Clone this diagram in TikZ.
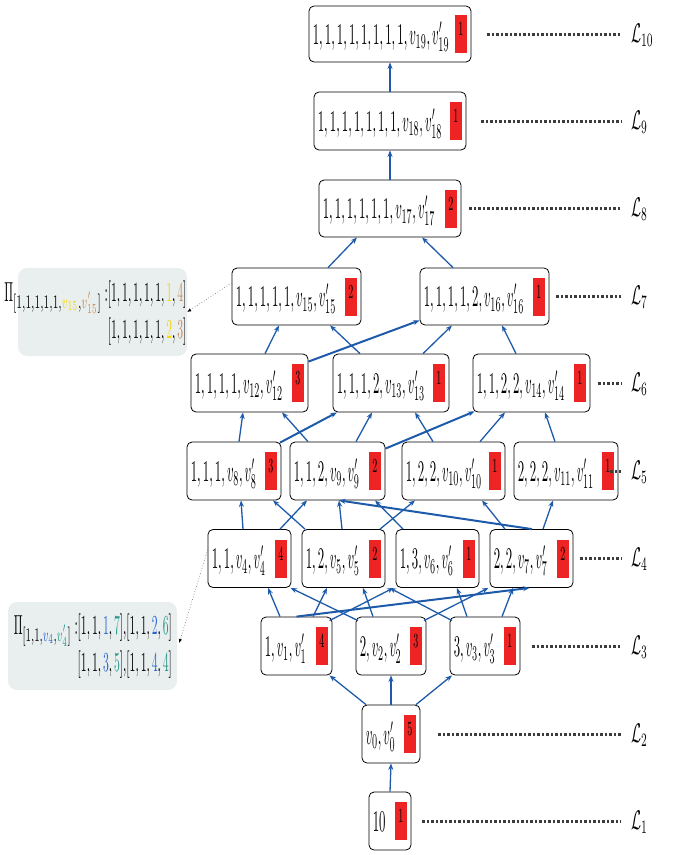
\documentclass[tikz,border=0pt]{standalone}
\usepackage{graphicx}
\usetikzlibrary{arrows.meta,calc}
\definecolor{edgeblue}{RGB}{30,90,170}
\definecolor{badgered}{RGB}{238,36,36}
\definecolor{pifill}{RGB}{233,239,238}
\definecolor{piyel}{RGB}{245,215,0}
\definecolor{pitan}{RGB}{200,140,90}
\definecolor{piblue}{RGB}{40,100,210}
\definecolor{piteal}{RGB}{35,150,140}
\definecolor{lvgray}{RGB}{60,60,60}
\tikzset{
  latbox/.style={draw=black,line width=0.8pt,rounded corners=5pt,fill=white,inner sep=0pt},
  lattext/.style={anchor=base west,inner sep=0pt},
  badgebox/.style={fill=badgered,minimum width=12pt,minimum height=38pt,inner sep=0pt},
  badgenum/.style={anchor=base,inner sep=0pt},
  edgearrow/.style={draw=edgeblue,line width=1.3pt,-{Stealth[length=6.5pt,width=5pt]}},
  thickedge/.style={edgearrow,line width=2pt},
  lvline/.style={draw=lvgray,line width=2.2pt,dash pattern=on 2.5pt off 2pt},
  lvlabel/.style={anchor=base west,inner sep=0pt},
  pibox/.style={fill=pifill,rounded corners=9pt,inner sep=0pt,minimum width=169pt,minimum height=88pt},
  pitext/.style={anchor=east,inner sep=0pt},
  dotarrow/.style={draw=gray,line width=0.7pt,dotted,-{Latex[length=4pt,width=3.5pt,color=black]}}
}
\newcommand\latnode[7]{%
  \node[latbox,minimum width=#4pt,minimum height=#5pt] (#1) at (#2,#3) {};
  \node[lattext] (#1t) at ([xshift=4pt,yshift=-10pt]#1.west) {\scalebox{1.28}[3]{$#6$}};
  \node[badgebox] (#1b) at ([xshift=-10.5pt]#1.east) {};
  \node[badgenum] (#1n) at ([yshift=-1.5pt]#1b.center) {\scalebox{1}[2]{#7}};
}
\newcommand\lvl[5]{% name, y, source node, xshift, label text
  \coordinate (e#1) at (621,#2);
  \coordinate (s#1) at ([xshift=#4pt]#3.east);
  \draw[lvline] (s#1 |- e#1) -- (e#1);
  \node[lvlabel] (L#1) at (631,#2+8) {\scalebox{1.45}[2.7]{$\mathcal{L}_{#5}$}};
}
\begin{document}
\begin{tikzpicture}[x=1pt,y=-1pt]
\useasboundingbox (0,0) rectangle (673,855);

% Pi annotation boxes
\node[pibox] (pi1) at (102.5,312) {};
\node[pitext] (pi1t) at ([xshift=-0.5pt,yshift=-1pt]pi1.east) {\scalebox{1.17}[2.75]{\renewcommand{\arraystretch}{1.06}\begin{tabular}{@{}r@{}}$\Pi_{\scalebox{1.22}[1]{$\scriptstyle[1,1,1,1,1,{\color{piyel}v_{15}},{\color{pitan}v'_{15}}]$}}\;{:}[1,1,1,1,1,{\color{piyel}1},{\color{pitan}4}]$\\$[1,1,1,1,1,{\color{piyel}2},{\color{pitan}3}]$\end{tabular}}};
\node[pibox] (pi2) at (92.5,646) {};
\node[pitext] (pi2t) at ([xshift=-5pt]pi2.east) {\scalebox{1.17}[2.75]{\renewcommand{\arraystretch}{1.06}\begin{tabular}{@{}r@{}}$\Pi_{\scalebox{1.16}[1]{$\scriptstyle[1,1,{\color{piblue}v_4},{\color{piteal}v'_4}]$}}\;{:}[1,1,{\color{piblue}1},{\color{piteal}7}]{,}[1,1,{\color{piblue}2},{\color{piteal}6}]$\\$[1,1,{\color{piblue}3},{\color{piteal}5}]{,}[1,1,{\color{piblue}4},{\color{piteal}4}]$\end{tabular}}};

% lattice nodes
\latnode{n19}{390}{34}{162}{56}{1,1,1,1,1,1,1,1,v_{19},v'_{19}}{1}
\latnode{n18}{390}{121}{152}{58}{1,1,1,1,1,1,1,v_{18},v'_{18}}{1}
\latnode{n17}{390}{208.5}{142}{57}{1,1,1,1,1,1,v_{17},v'_{17}}{2}
\latnode{n15}{296.5}{296.5}{129}{57}{1,1,1,1,1,v_{15},v'_{15}}{2}
\latnode{n16}{484.5}{296.5}{129}{57}{1,1,1,1,2,v_{16},v'_{16}}{1}
\latnode{n12}{249.5}{383}{117}{58}{1,1,1,1,v_{12},v'_{12}}{3}
\latnode{n13}{391}{383}{116}{58}{1,1,1,2,v_{13},v'_{13}}{1}
\latnode{n14}{531.5}{383}{117}{58}{1,1,2,2,v_{14},v'_{14}}{1}
\latnode{n8}{234}{471}{94}{58}{1,1,1,v_8,v'_8}{3}
\latnode{n9}{337.5}{471}{95}{58}{1,1,2,v_9,v'_9}{2}
\latnode{n10}{453.5}{471}{103}{58}{1,2,2,v_{10},v'_{10}}{1}
\latnode{n11}{566}{471}{104}{58}{2,2,2,v_{11},v'_{11}}{1}
\latnode{n4}{249.5}{558.5}{83}{58}{1,1,v_4,v'_4}{4}
\latnode{n5}{343.5}{558.5}{83}{58}{1,2,v_5,v'_5}{2}
\latnode{n6}{437.5}{558.5}{83}{58}{1,3,v_6,v'_6}{1}
\latnode{n7}{531.5}{558.5}{83}{58}{2,2,v_7,v'_7}{2}
\latnode{n1}{296.5}{646}{71}{58}{1,v_1,v'_1}{4}
\latnode{n2}{391}{646}{70}{58}{2,v_2,v'_2}{3}
\latnode{n3}{485}{646}{70}{58}{3,v_3,v'_3}{1}
\latnode{n0}{391}{734}{58}{58}{v_0,v'_0}{5}
\latnode{root}{390}{821}{42}{58}{10}{1}

% edges L1 -> L2 -> L3
\draw[edgearrow] (root.north) -- (n0.south);
\draw[edgearrow] ([xshift=-25pt]n0.north) -- ([xshift=33pt]n1.south);
\draw[edgearrow] (n0.north) -- (n2.south);
\draw[edgearrow] ([xshift=25pt]n0.north) -- ([xshift=-33pt]n3.south);
% L3 -> L4
\draw[edgearrow] ([xshift=-16.5pt]n1.north) -- ([xshift=18.5pt]n4.south);
\draw[edgearrow] ([xshift=16.5pt]n1.north) -- ([xshift=-16.5pt]n5.south);
\draw[thickedge] (n1.north) -- ([xshift=-2pt]n7.south);
\draw[edgearrow] ([xshift=33pt,yshift=-4pt]n1.north) -- ([xshift=-44pt]n6.south);
\draw[edgearrow] ([xshift=-33pt,yshift=-4pt]n2.north) -- ([xshift=41pt]n4.south);
\draw[edgearrow] ([xshift=-18pt]n2.north) -- ([xshift=19.5pt]n5.south);
\draw[edgearrow] ([xshift=33pt,yshift=-4pt]n2.north) -- ([xshift=-43pt]n7.south);
\draw[edgearrow] ([xshift=-33pt,yshift=-4pt]n3.north) -- ([xshift=46pt]n5.south);
\draw[edgearrow] ([xshift=-18pt]n3.north) -- ([xshift=19.5pt]n6.south);
\draw[edgearrow] ([xshift=17pt]n3.north) -- ([xshift=-18.5pt]n7.south);
% L4 -> L5
\draw[edgearrow] ([xshift=-6.5pt]n4.north) -- ([xshift=7pt]n8.south);
\draw[edgearrow] ([xshift=30.5pt]n4.north) -- ([xshift=-30.5pt]n9.south);
\draw[edgearrow] ([xshift=-38.5pt]n5.north) -- ([xshift=39pt]n8.south);
\draw[edgearrow] ([xshift=-1.5pt]n5.north) -- ([xshift=1.5pt]n9.south);
\draw[edgearrow] ([xshift=36.5pt]n5.north) -- ([xshift=-38.5pt]n10.south);
\draw[edgearrow] ([xshift=-34.5pt]n6.north) -- ([xshift=37.5pt]n9.south);
\draw[thickedge] ([xshift=0.5pt]n7.north) -- ([xshift=1.5pt]n9.south);
\draw[edgearrow] ([xshift=-26.5pt]n7.north) -- ([xshift=28.5pt]n10.south);
\draw[edgearrow] ([xshift=11.5pt]n7.north) -- ([xshift=-13pt]n11.south);
% L5 -> L6
\draw[edgearrow] ([xshift=5pt]n8.north) -- ([xshift=-6.5pt]n12.south);
\draw[thickedge] ([xshift=46pt,yshift=-1pt]n8.north) -- ([xshift=-54pt]n13.south);
\draw[edgearrow] ([xshift=-29.5pt]n9.north) -- ([xshift=32.5pt]n12.south);
\draw[edgearrow] ([xshift=18.5pt]n9.north) -- ([xshift=-19pt]n13.south);
\draw[thickedge] ([yshift=-7pt]n9.north east) -- ([xshift=-57pt,yshift=1pt]n14.south);
\draw[edgearrow] ([xshift=-20.5pt]n10.north) -- ([xshift=24pt]n13.south);
\draw[edgearrow] ([xshift=26.5pt]n10.north) -- ([xshift=-26.5pt]n14.south);
\draw[edgearrow] ([xshift=-11pt]n11.north) -- ([xshift=13.5pt]n14.south);
% L6 -> L7
\draw[edgearrow] ([xshift=15.5pt]n12.north) -- ([xshift=-17.5pt]n15.south);
\draw[thickedge] ([yshift=-8pt]n12.north east) -- ([yshift=5pt]n16.south west);
\draw[edgearrow] ([xshift=-31pt]n13.north) -- ([xshift=33.5pt]n15.south);
\draw[edgearrow] ([xshift=32pt]n13.north) -- ([xshift=-32.5pt]n16.south);
\draw[edgearrow] ([xshift=-15.5pt]n14.north) -- ([xshift=17.5pt]n16.south);
% L7 -> L8 -> L9 -> L10
\draw[edgearrow] ([xshift=31.5pt]n15.north) -- ([xshift=-33pt]n17.south);
\draw[edgearrow] ([xshift=-31.5pt]n16.north) -- ([xshift=32pt]n17.south);
\draw[edgearrow] (n17.north) -- (n18.south);
\draw[edgearrow] (n18.north) -- (n19.south);

% dotted pointers to Pi boxes
\draw[dotarrow] ([yshift=13.5pt]n15.west) -- (pi1.east);
\draw[dotarrow] ([yshift=8.5pt]n4.west) -- ([xshift=2pt,yshift=3pt]pi2.east);

% level lines and labels
\lvl{10}{34.5}{n19}{16}{10}
\lvl{9}{121.5}{n18}{15}{9}
\lvl{8}{208.5}{n17}{8}{8}
\lvl{7}{296.5}{n16}{7}{7}
\lvl{6}{383.5}{n14}{8}{6}
\lvl{5}{471.5}{n11}{-8}{5}
\lvl{4}{558.5}{n7}{7}{4}
\lvl{3}{646.5}{n3}{12}{3}
\lvl{2}{734.5}{n0}{18}{2}
\lvl{1}{821.5}{root}{11}{1}
\end{tikzpicture}
\end{document}
